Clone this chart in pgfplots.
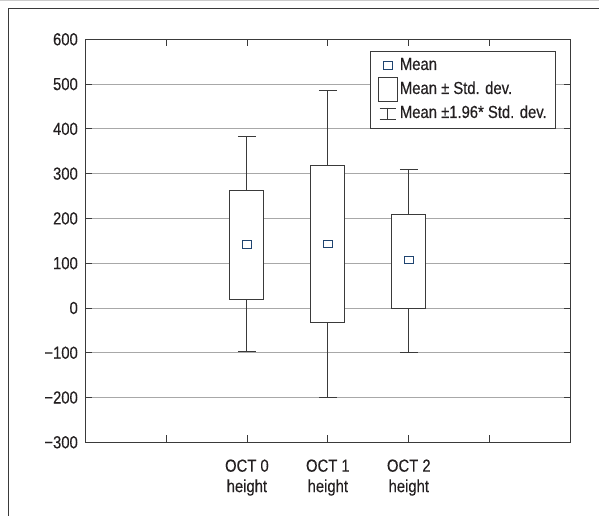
\documentclass[border=0pt]{standalone}
\usepackage{fontspec}
\setmainfont{Liberation Sans}[FakeStretch=0.85, FakeBold=0.3]
\usepackage{pgfplots}
\pgfplotsset{compat=1.18}
\usepgfplotslibrary{statistics}

\definecolor{axisgray}{HTML}{3A3A3A}
\definecolor{gridgray}{HTML}{A8A8A8}
\definecolor{textgray}{HTML}{231F20}
\definecolor{meanblue}{HTML}{1F4470}

\newcommand{\lblfont}{\fontsize{17.5}{20.5}\selectfont}

\begin{document}
\begin{tikzpicture}
\useasboundingbox (0,0) rectangle (599bp,516bp);
\draw[gray!40, line width=0.8pt] (0,515.6bp) -- (599bp,515.6bp);
\draw[axisgray, line width=1pt] (8bp,-5bp) -- (8bp,507bp) -- (605bp,507bp);

\begin{axis}[
  at={(85bp,73.7bp)}, anchor=south west,
  scale only axis, width=485.7bp, height=403bp,
  xmin=0, xmax=6, ymin=-300, ymax=600,
  xtick={1,2,3,4,5},
  xticklabels={,{OCT 0\\height},{OCT 1\\height},{OCT 2\\height},},
  ytick={-300,-200,-100,0,100,200,300,400,500,600},
  yticklabels={−300,−200,−100,0,100,200,300,400,500,600},
  tick align=inside, major tick length=7bp,
  tick style={axisgray, line width=0.8pt},
  axis line style={axisgray, line width=1pt},
  ymajorgrids, major grid style={gridgray, line width=0.9pt},
  tick label style={font=\lblfont, textgray},
  xticklabel style={align=center, inner ysep=0pt, yshift=-17bp},
  yticklabel style={inner xsep=7bp},
  legend cell align=left,
  legend style={at={(0.97,0.972)}, anchor=north east, draw=axisgray,
    line width=0.8pt, fill=white, text=textgray, font=\lblfont,
    inner xsep=7bp, inner ysep=2.5bp, row sep=0pt,
    nodes={inner xsep=2bp, inner ysep=3bp, text height=13.5bp, text depth=4.5bp}},
  boxplot/draw direction=y,
  boxplot/draw/median/.code={},
]
\addlegendimage{legend image code/.code={
  \path (0,-7bp) (19.4bp,7bp);
  \draw[meanblue, fill=white, line width=1.1pt] (5.2bp,-3.6bp) rectangle (14.2bp,3.6bp);}}
\addlegendentry{Mean}
\addlegendimage{legend image code/.code={
  \path (0,-7bp) (19.4bp,7bp);
  \draw[axisgray, line width=0.9pt, overlay] (0,-12bp) rectangle (19.4bp,12bp);}}
\addlegendentry{Mean ± Std. dev.}
\addlegendimage{legend image code/.code={
  \path (0,-7bp) (19.4bp,7bp);
  \draw[axisgray, line width=0.9pt] (1.5bp,5.5bp) -- (17.5bp,5.5bp)
    (9.5bp,5.5bp) -- (9.5bp,-6bp) (1.5bp,-6bp) -- (17.5bp,-6bp);}}
\addlegendentry{Mean ±1.96* Std. dev.}

% OCT 0
\addplot[axisgray, line width=0.9pt, fill=white, forget plot,
  boxplot prepared={draw position=2, lower whisker=-97, lower quartile=20,
    median=142, upper quartile=263, upper whisker=384,
    box extend=0.42, whisker extend=0.22}] coordinates {};
% OCT 1
\addplot[axisgray, line width=0.9pt, fill=white, forget plot,
  boxplot prepared={draw position=3, lower whisker=-199, lower quartile=-32,
    median=143, upper quartile=318, upper whisker=485,
    box extend=0.42, whisker extend=0.22}] coordinates {};
% OCT 2
\addplot[axisgray, line width=0.9pt, fill=white, forget plot,
  boxplot prepared={draw position=4, lower whisker=-99, lower quartile=0,
    median=107, upper quartile=208, upper whisker=310,
    box extend=0.42, whisker extend=0.22}] coordinates {};

% means
\addplot[only marks, mark=square*, mark size=3.7bp, forget plot,
  mark options={draw=meanblue, fill=white, line width=1.1pt, xscale=1.2}]
  coordinates {(2,142) (3,143) (4,107)};
\end{axis}
\end{tikzpicture}
\end{document}
